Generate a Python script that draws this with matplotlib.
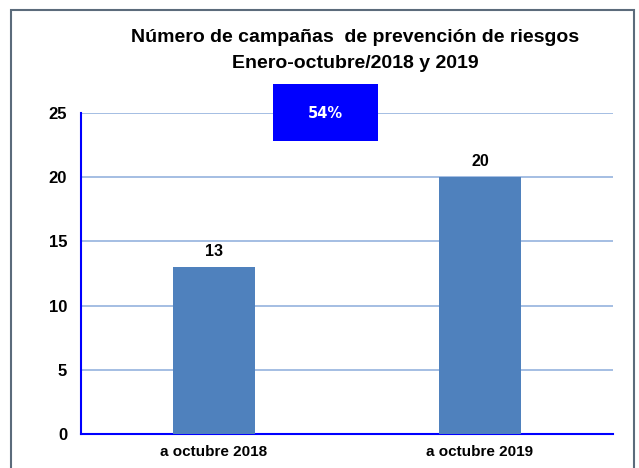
import matplotlib
matplotlib.use("Agg")
import matplotlib.pyplot as plt
from matplotlib.patches import Rectangle

categories = ["a octubre 2018", "a octubre 2019"]
values = [13, 20]
yticks = [0, 5, 10, 15, 20, 25]
badge_text = "54%"

plt.rcParams['font.family'] = ['Liberation Sans', 'DejaVu Sans']

fig = plt.figure(figsize=(6.39, 4.68), dpi=100)
ax = fig.add_axes([81/639, (468-434)/468, (613-81)/639, (434-113)/468])

x = range(len(categories))
ax.bar(x, values, width=0.31, color="#4f81bd", zorder=3)
for xi, v in zip(x, values):
    ax.text(xi, v + 0.6, str(v), ha="center", va="bottom", fontsize=11.5, fontweight="bold", color="black")

ax.set_xlim(-0.5, 1.5)
ax.set_ylim(0, 25)
ax.set_yticks(yticks)
ax.set_yticklabels([str(t) for t in yticks], fontsize=12, fontweight="bold")
ax.set_xticks(list(x))
ax.set_xticklabels(categories, fontsize=11, fontweight="bold")
ax.tick_params(axis="y", length=0, pad=10)
ax.tick_params(axis="x", length=0, pad=8)
ax.yaxis.grid(True, color="#95b3de", linewidth=1.2, zorder=0)
ax.set_axisbelow(True)
for s in ["top", "right"]:
    ax.spines[s].set_visible(False)
ax.spines["left"].set_color("#0000ff")
ax.spines["bottom"].set_color("#0000ff")
ax.spines["left"].set_linewidth(1.5)
ax.spines["bottom"].set_linewidth(1.5)

fig.text(355/639, 1 - 38/468, "Número de campañas  de prevención de riesgos", ha="center", va="center",
         fontsize=14, fontweight="bold")
fig.text(355/639, 1 - 63/468, "Enero-octubre/2018 y 2019", ha="center", va="center",
         fontsize=14, fontweight="bold")

# badge
fig.patches.append(Rectangle((273/639, (468-141)/468), 105/639, 57/468, transform=fig.transFigure,
                             facecolor="#0000ff", edgecolor="none", zorder=5))
fig.text((273+378)/2/639, 1 - 113/468, badge_text, ha="center", va="center", fontsize=10.5,
         fontweight="bold", color="white", family=["DejaVu Sans"], zorder=6)

# outer border
fig.patches.append(Rectangle((11/639, -0.05), (634-11)/639, 1 - 10/468 + 0.05, transform=fig.transFigure,
                             facecolor="none", edgecolor="#5b6b7b", linewidth=1.5, zorder=10))

fig.savefig("out.png", dpi=100)
